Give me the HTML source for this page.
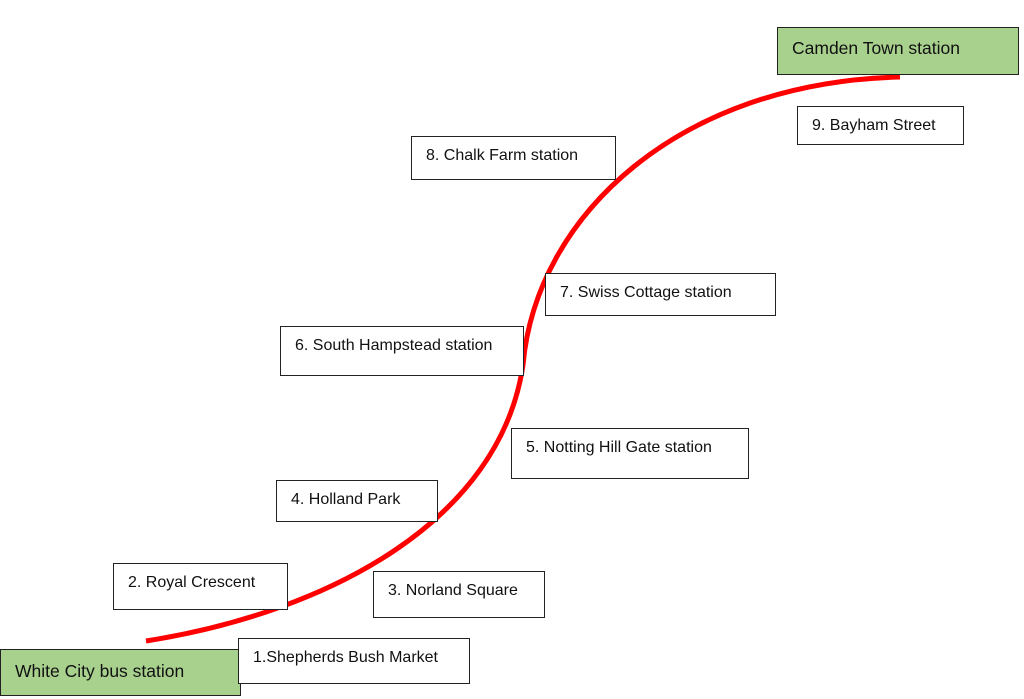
<!DOCTYPE html>
<html><head><meta charset="utf-8"><style>
body{margin:0;width:1024px;height:699px;background:#fff;position:relative;overflow:hidden;font-family:"Liberation Sans",sans-serif;}
svg{position:absolute;left:0;top:0}
.b{position:absolute;box-sizing:border-box;border:1.5px solid #222;background:#fff;font-size:16px;color:#111;padding:10px 0 0 14px;white-space:nowrap;}
.g{background:#a9d18e;font-size:17.5px;padding-top:10px;}
</style></head><body>
<svg width="1024" height="699"><path d="M146,641 C330,612 500,520 523,365 C536,215 680,82 900,77" fill="none" stroke="#ff0000" stroke-width="5"/></svg>
<div class="b g" style="left:777px;top:27px;width:242px;height:48px">Camden Town station</div>
<div class="b" style="left:797px;top:106px;width:167px;height:39px;padding-top:10px">9. Bayham Street</div>
<div class="b" style="left:411px;top:136px;width:205px;height:44px">8. Chalk Farm station</div>
<div class="b" style="left:545px;top:273px;width:231px;height:43px">7. Swiss Cottage station</div>
<div class="b" style="left:280px;top:326px;width:244px;height:50px">6. South Hampstead station</div>
<div class="b" style="left:511px;top:428px;width:238px;height:51px">5. Notting Hill Gate station</div>
<div class="b" style="left:276px;top:480px;width:162px;height:42px">4. Holland Park</div>
<div class="b" style="left:113px;top:563px;width:175px;height:47px">2. Royal Crescent</div>
<div class="b" style="left:373px;top:571px;width:172px;height:47px">3. Norland Square</div>
<div class="b g" style="left:0px;top:649px;width:241px;height:47px;padding-top:11px">White City bus station</div>
<div class="b" style="left:238px;top:638px;width:232px;height:46px">1.Shepherds Bush Market</div>
</body></html>
